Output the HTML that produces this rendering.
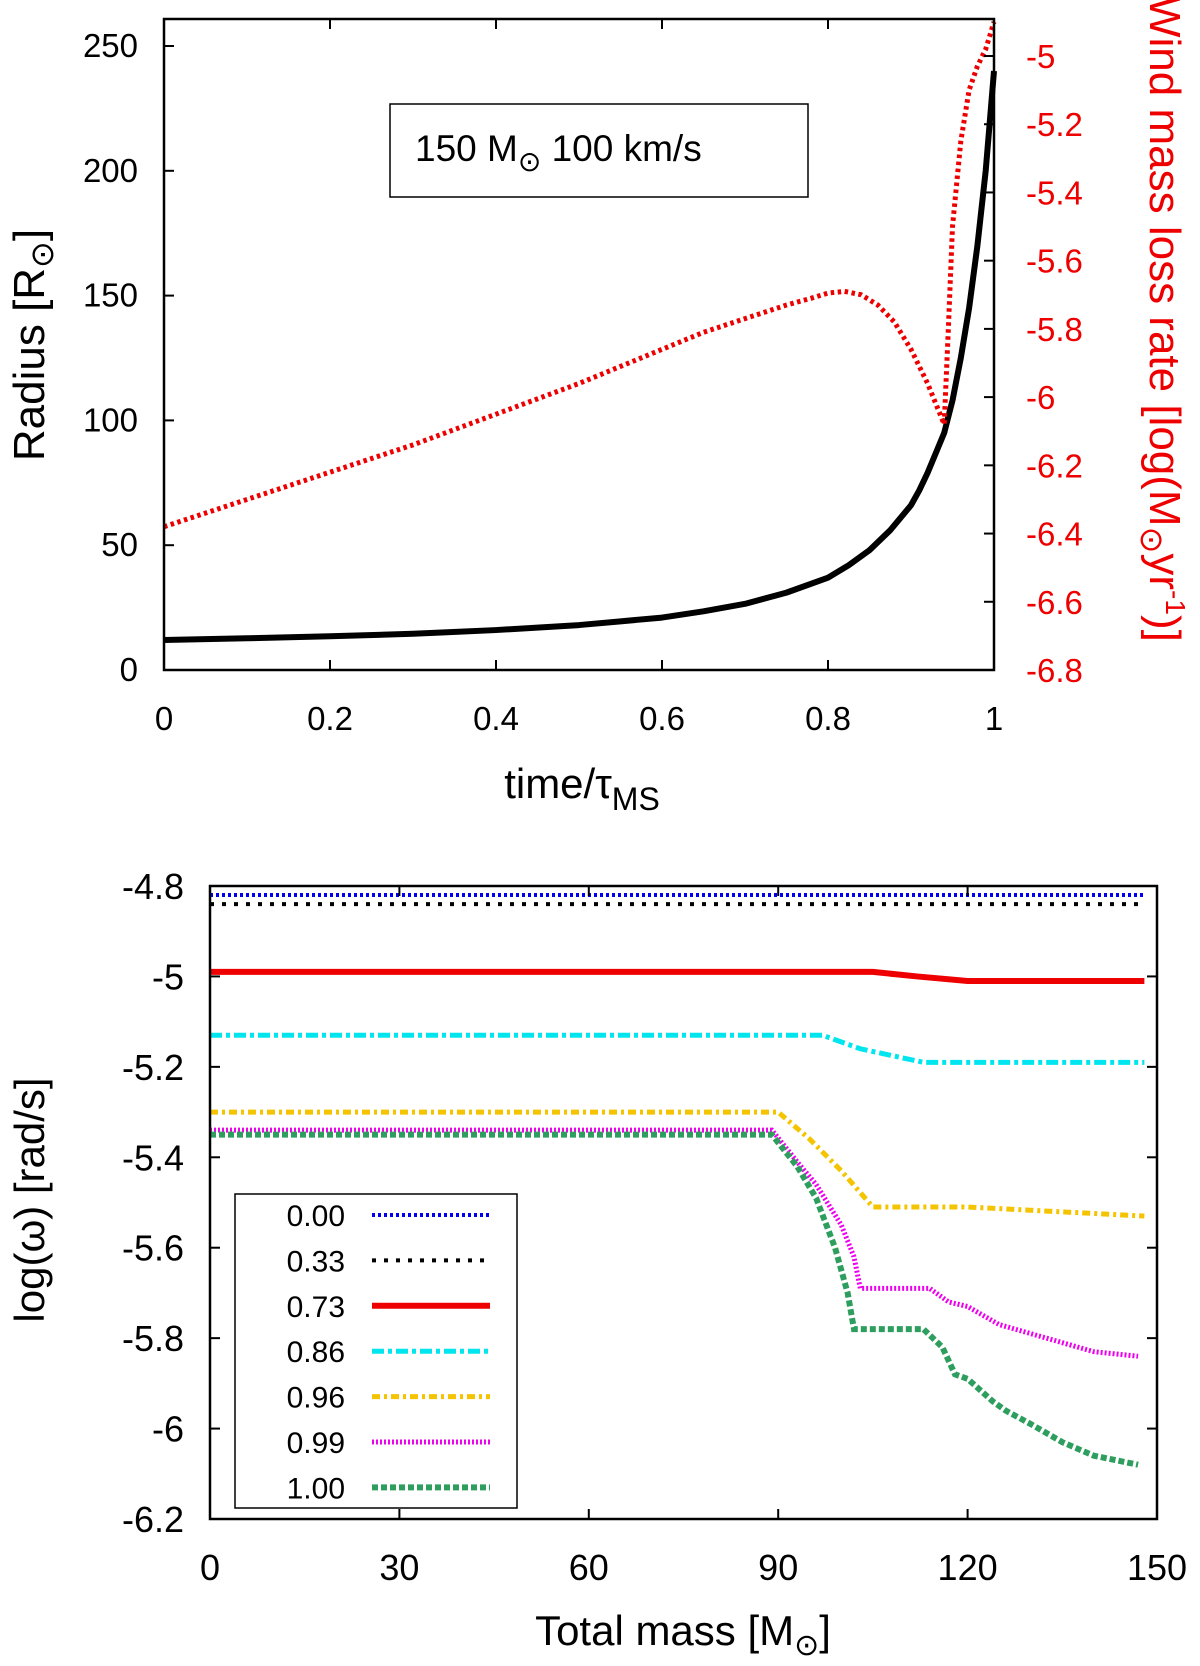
<!DOCTYPE html>
<html><head><meta charset="utf-8"><style>
html,body{margin:0;padding:0;background:#fff}
svg{display:block;font-family:"Liberation Sans","DejaVu Sans",sans-serif}
</style></head><body>
<svg id="fig" width="1200" height="1666" viewBox="0 0 1200 1666"></svg>
<script>
// ---- Top chart data ----
const radT=[0,0.1,0.2,0.3,0.4,0.5,0.55,0.6,0.65,0.7,0.75,0.8,0.825,0.85,0.875,0.9,0.91,0.92,0.93,0.94,0.95,0.96,0.97,0.98,0.99,1.0];
const radV=[12,12.7,13.5,14.5,16,18,19.5,21,23.5,26.5,31,37,42,48,56,66,72,79,87,95,108,125,145,170,200,240];
const windT=[0,0.1,0.2,0.3,0.4,0.5,0.6,0.65,0.7,0.75,0.78,0.8,0.82,0.84,0.86,0.88,0.9,0.92,0.94,0.945,0.95,0.96,0.97,0.98,0.99,1.0];
const windV=[-6.38,-6.3,-6.22,-6.14,-6.05,-5.96,-5.86,-5.81,-5.77,-5.73,-5.71,-5.695,-5.69,-5.7,-5.73,-5.78,-5.86,-5.96,-6.08,-5.8,-5.5,-5.25,-5.1,-5.03,-4.98,-4.9];
const topXTicks=[0,0.2,0.4,0.6,0.8,1];
const topYTicks=[0,50,100,150,200,250];
const topY2Ticks=[-6.8,-6.6,-6.4,-6.2,-6,-5.8,-5.6,-5.4,-5.2,-5];
// ---- Bottom chart data ----
const legendLabels=["0.00","0.33","0.73","0.86","0.96","0.99","1.00"];
const massX=[
 [0,148],[0,148],
 [0,105,112,120,148],
 [0,97,103,113,148],
 [0,90,95,100,105,120,148],
 [0,89,93,96,100,102,103,114,117,120,125,130,140,147],
 [0,89,93,96,99,101,102,113,116,118,120,124,126,130,135,140,147]];
const omegaV=[
 [-4.82,-4.82],[-4.84,-4.84],
 [-4.99,-4.99,-5.0,-5.01,-5.01],
 [-5.13,-5.13,-5.16,-5.19,-5.19],
 [-5.30,-5.30,-5.36,-5.43,-5.51,-5.51,-5.53],
 [-5.34,-5.34,-5.41,-5.46,-5.55,-5.62,-5.69,-5.69,-5.72,-5.73,-5.77,-5.79,-5.83,-5.84],
 [-5.35,-5.35,-5.42,-5.49,-5.6,-5.7,-5.78,-5.78,-5.82,-5.88,-5.89,-5.94,-5.96,-5.99,-6.03,-6.06,-6.08]];
const bXTicks=[0,30,60,90,120,150];
const bYTicks=[-6.2,-6,-5.8,-5.6,-5.4,-5.2,-5,-4.8];
const styles=[
 {c:"#0000ee",w:4,d:"3,3"},{c:"#000",w:4,d:"4,8"},{c:"#ee0000",w:6,d:""},
 {c:"#00e5ee",w:5,d:"12,4,4,4"},{c:"#f5c400",w:5,d:"8,4,3,4"},{c:"#ee00ee",w:5,d:"2,2"},{c:"#2e9e5e",w:6,d:"6,3"}];

const S="http://www.w3.org/2000/svg", svg=document.getElementById('fig');
function el(t,a,txt,p){const e=document.createElementNS(S,t);for(const k in a)e.setAttribute(k,a[k]);if(txt!=null)e.textContent=txt;(p||svg).appendChild(e);return e;}

// top axes
const L=164,R=994,T=19,B=670;
const tx=v=>L+v*(R-L), ty=v=>B-v*(B-46)/250, ty2=v=>670-(v+6.8)*(670-56)/1.8;
let g=el('g',{});
let ln=el('polyline',{points:radT.map((t,i)=>tx(t)+','+ty(radV[i])).join(' '),fill:'none',stroke:'#000','stroke-width':6,'stroke-linejoin':'round'},null,g);

ln=el('polyline',{points:windT.map((t,i)=>tx(t)+','+ty2(windV[i])).join(' '),fill:'none',stroke:'#ee0000','stroke-width':5,'stroke-dasharray':'3.5,3.5'},null,g);

let fr=el('rect',{x:L,y:T,width:R-L,height:B-T,fill:'none',stroke:'#000','stroke-width':2.5},null,g);

topXTicks.forEach(v=>{el('line',{x1:tx(v),x2:tx(v),y1:B,y2:B-10,stroke:'#000','stroke-width':2},null,g);el('line',{x1:tx(v),x2:tx(v),y1:T,y2:T+10,stroke:'#000','stroke-width':2},null,g);
 let t=el('text',{x:tx(v),y:730,'font-size':33,'text-anchor':'middle'},String(v),g);});
topYTicks.forEach(v=>{el('line',{x1:L,x2:L+10,y1:ty(v),y2:ty(v),stroke:'#000','stroke-width':2},null,g);
 let t=el('text',{x:138,y:ty(v)+11,'font-size':33,'text-anchor':'end'},String(v),g);});
topY2Ticks.forEach(v=>{el('line',{x1:R,x2:R-10,y1:ty2(v),y2:ty2(v),stroke:'#000','stroke-width':2},null,g);
 let t=el('text',{x:1026,y:ty2(v)+12,'font-size':33,fill:'#ee0000'},String(v),g);});
let tt=el('text',{x:582,y:798,'font-size':42,'text-anchor':'middle'},null,g);tt.innerHTML='time/τ<tspan font-size="32" dy="12">MS</tspan>';

tt=el('text',{transform:'translate(44,345) rotate(-90)','font-size':44,'text-anchor':'middle'},null,g);tt.innerHTML='Radius [R<tspan font-size="32" dy="9">⊙</tspan><tspan dy="-9">]</tspan>';

tt=el('text',{transform:'translate(1150,-4) rotate(90)','font-size':44,'text-anchor':'start',fill:'#ee0000'},null,g);tt.innerHTML='Wind mass loss rate [log(M<tspan font-size="32" dy="9">⊙</tspan><tspan dy="-9">yr</tspan><tspan font-size="28" dy="-16">-1</tspan><tspan dy="16">)]</tspan>';

let bx=el('rect',{x:390,y:104,width:418,height:93,fill:'#fff',stroke:'#000','stroke-width':1.5},null,g);
tt=el('text',{x:415,y:161,'font-size':37},null,g);tt.innerHTML='150 M<tspan font-size="28" dy="10">⊙</tspan><tspan dy="-10">  100 km/s</tspan>';


// bottom axes
const L2=210,R2=1157,T2=886,B2=1519;
const bx2=v=>L2+v/150*(R2-L2), by=v=>B2-(v+6.2)/1.4*(B2-T2);
g=el('g',{});
massX.forEach((xs,i)=>{const s=styles[i];
 let p=el('polyline',{points:xs.map((x,j)=>bx2(x)+','+by(omegaV[i][j])).join(' '),fill:'none',stroke:s.c,'stroke-width':s.w,'stroke-dasharray':s.d},null,g);
 });
fr=el('rect',{x:L2,y:T2,width:R2-L2,height:B2-T2,fill:'none',stroke:'#000','stroke-width':2.5},null,g);

bXTicks.forEach(v=>{el('line',{x1:bx2(v),x2:bx2(v),y1:B2,y2:B2-10,stroke:'#000','stroke-width':2},null,g);el('line',{x1:bx2(v),x2:bx2(v),y1:T2,y2:T2+10,stroke:'#000','stroke-width':2},null,g);
 let t=el('text',{x:bx2(v),y:1580,'font-size':36,'text-anchor':'middle'},String(v),g);});
bYTicks.forEach(v=>{el('line',{x1:L2,x2:L2+10,y1:by(v),y2:by(v),stroke:'#000','stroke-width':2},null,g);el('line',{x1:R2,x2:R2-10,y1:by(v),y2:by(v),stroke:'#000','stroke-width':2},null,g);
 let t=el('text',{x:184,y:by(v)+13,'font-size':36,'text-anchor':'end'},String(v),g);});
tt=el('text',{x:683,y:1645,'font-size':42,'text-anchor':'middle'},null,g);tt.innerHTML='Total mass [M<tspan font-size="30" dy="10">⊙</tspan><tspan dy="-10">]</tspan>';

tt=el('text',{transform:'translate(44,1200) rotate(-90)','font-size':42,'text-anchor':'middle'},'log(ω) [rad/s]',g);

let lg=el('g',{},null,g);
el('rect',{x:235,y:1194,width:282,height:314,fill:'#fff',stroke:'#000','stroke-width':1.5},null,lg);
legendLabels.forEach((lab,i)=>{const y=1215+i*45.4,s=styles[i];
 let t=el('text',{x:345,y:y+11,'font-size':30,'text-anchor':'end'},lab,lg);
 let l=el('line',{x1:372,x2:490,y1:y,y2:y,stroke:s.c,'stroke-width':s.w,'stroke-dasharray':s.d},null,lg);});
</script>
</body></html>
